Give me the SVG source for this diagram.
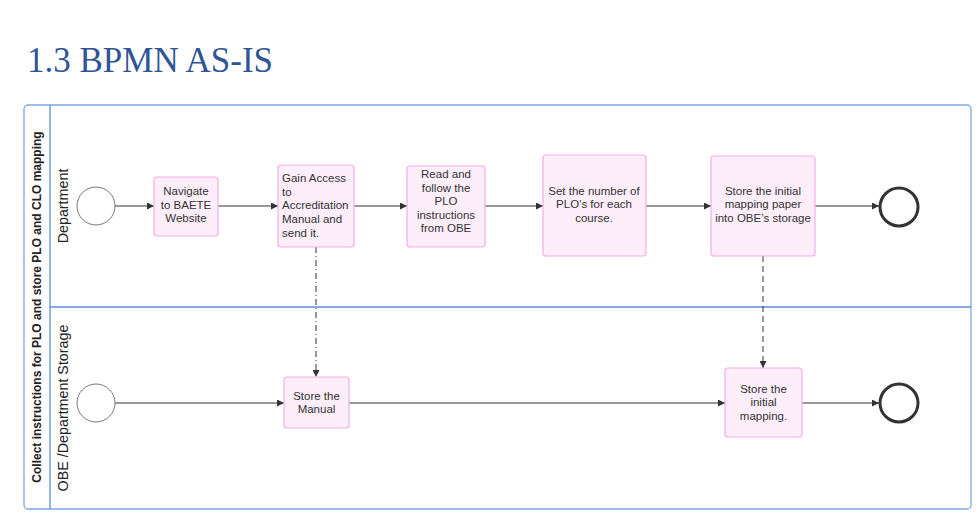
<svg xmlns="http://www.w3.org/2000/svg" width="979" height="525" viewBox="0 0 979 525">
<style>
.title{font-family:"Liberation Serif","Times New Roman",serif;font-size:35px;fill:#2f5597}
.pool{fill:none;stroke:#7ea8e8;stroke-width:1.3}
.lane{stroke:#5c8fdc;stroke-width:1.3;fill:none}
.plabel{font-family:"Liberation Sans",Arial,sans-serif;font-size:12px;font-weight:bold;fill:#222}
.llabel{font-family:"Liberation Sans",Arial,sans-serif;font-size:14.3px;fill:#222}
.task{fill:#fdeefa;stroke:#f7ace8;stroke-width:1.2}
.t{font-family:"Liberation Sans",Arial,sans-serif;font-size:11.5px;fill:#333}
.start{fill:#fff;stroke:#777;stroke-width:1}
.end{fill:#fff;stroke:#333;stroke-width:3}
.flow{stroke:#333;stroke-width:1;fill:none}
.dd{stroke-dasharray:6 3 1 3}
.da{stroke-dasharray:6 4}
</style>
<defs>
<marker id="arr" viewBox="0 0 10 10" refX="10" refY="5" markerWidth="9" markerHeight="7" markerUnits="userSpaceOnUse" orient="auto">
<path d="M0,0 L10,5 L0,10 z" fill="#333"/>
</marker>
</defs>
<rect width="979" height="525" fill="#fff"/>
<text class="title" x="27" y="72">1.3 BPMN AS-IS</text>

<g id="pool">
<rect class="pool" x="24" y="105" width="947" height="404" rx="4"/>
<line class="lane" x1="50" y1="105" x2="50" y2="509"/>
<line class="lane" x1="50" y1="307" x2="971" y2="307"/>
<text class="plabel" transform="translate(41,307) rotate(-90)" text-anchor="middle">Collect instructions for PLO and store PLO and CLO mapping</text>
</g>
<g id="lane-department">
<text class="llabel" transform="translate(68,206) rotate(-90)" text-anchor="middle">Department</text>
</g>
<g id="lane-obe">
<text class="llabel" transform="translate(68,408) rotate(-90)" text-anchor="middle">OBE /Department Storage</text>
</g>

<g id="connectors">
<line class="flow" x1="115" y1="206" x2="154" y2="206" marker-end="url(#arr)"/>
<line class="flow" x1="218" y1="206" x2="278" y2="206" marker-end="url(#arr)"/>
<line class="flow" x1="354" y1="206" x2="407" y2="206" marker-end="url(#arr)"/>
<line class="flow" x1="485" y1="206" x2="543" y2="206" marker-end="url(#arr)"/>
<line class="flow" x1="646" y1="206" x2="711" y2="206" marker-end="url(#arr)"/>
<line class="flow" x1="815" y1="206" x2="879" y2="206" marker-end="url(#arr)"/>
<line class="flow" x1="115" y1="403" x2="284" y2="403" marker-end="url(#arr)"/>
<line class="flow" x1="349" y1="403" x2="725" y2="403" marker-end="url(#arr)"/>
<line class="flow" x1="802" y1="403" x2="879" y2="403" marker-end="url(#arr)"/>
<line class="flow dd" x1="316" y1="247" x2="316" y2="377" marker-end="url(#arr)"/>
<line class="flow da" x1="763" y1="256" x2="763" y2="368" marker-end="url(#arr)"/>
</g>

<g id="start1"><circle class="start" cx="96" cy="206" r="19"/></g>
<g id="task-navigate">
<rect class="task" x="154" y="177" width="64" height="59" rx="3"/>
<text class="t" text-anchor="middle"><tspan x="186" y="195">Navigate</tspan><tspan x="186" y="209">to BAETE</tspan><tspan x="186" y="222">Website</tspan></text>
</g>
<g id="task-gain">
<rect class="task" x="278" y="165" width="76" height="82" rx="3"/>
<text class="t"><tspan x="282" y="182">Gain Access</tspan><tspan x="282" y="196">to</tspan><tspan x="282" y="209">Accreditation</tspan><tspan x="282" y="223">Manual and</tspan><tspan x="282" y="237">send it.</tspan></text>
</g>
<g id="task-read">
<rect class="task" x="407" y="166" width="78" height="81" rx="3"/>
<text class="t" text-anchor="middle"><tspan x="446" y="178">Read and</tspan><tspan x="446" y="192">follow the</tspan><tspan x="446" y="205">PLO</tspan><tspan x="446" y="219">instructions</tspan><tspan x="446" y="232">from OBE</tspan></text>
</g>
<g id="task-set">
<rect class="task" x="543" y="155" width="103" height="101" rx="3"/>
<text class="t" text-anchor="middle"><tspan x="594" y="195">Set the number of</tspan><tspan x="594" y="208">PLO’s for each</tspan><tspan x="594" y="222">course.</tspan></text>
</g>
<g id="task-store-paper">
<rect class="task" x="711" y="156" width="104" height="100" rx="3"/>
<text class="t" text-anchor="middle"><tspan x="763" y="195">Store the initial</tspan><tspan x="763" y="208">mapping paper</tspan><tspan x="763" y="222">into OBE’s storage</tspan></text>
</g>
<g id="end1"><circle class="end" cx="899" cy="207" r="19"/></g>

<g id="start2"><circle class="start" cx="96" cy="403" r="19"/></g>
<g id="task-store-manual">
<rect class="task" x="284" y="377" width="65" height="51" rx="3"/>
<text class="t" text-anchor="middle"><tspan x="316.5" y="400">Store the</tspan><tspan x="316.5" y="413">Manual</tspan></text>
</g>
<g id="task-store-mapping">
<rect class="task" x="725" y="368" width="77" height="69" rx="3"/>
<text class="t" text-anchor="middle"><tspan x="763.5" y="393">Store the</tspan><tspan x="763.5" y="406">initial</tspan><tspan x="763.5" y="420">mapping.</tspan></text>
</g>
<g id="end2"><circle class="end" cx="899" cy="403" r="19"/></g>
</svg>
